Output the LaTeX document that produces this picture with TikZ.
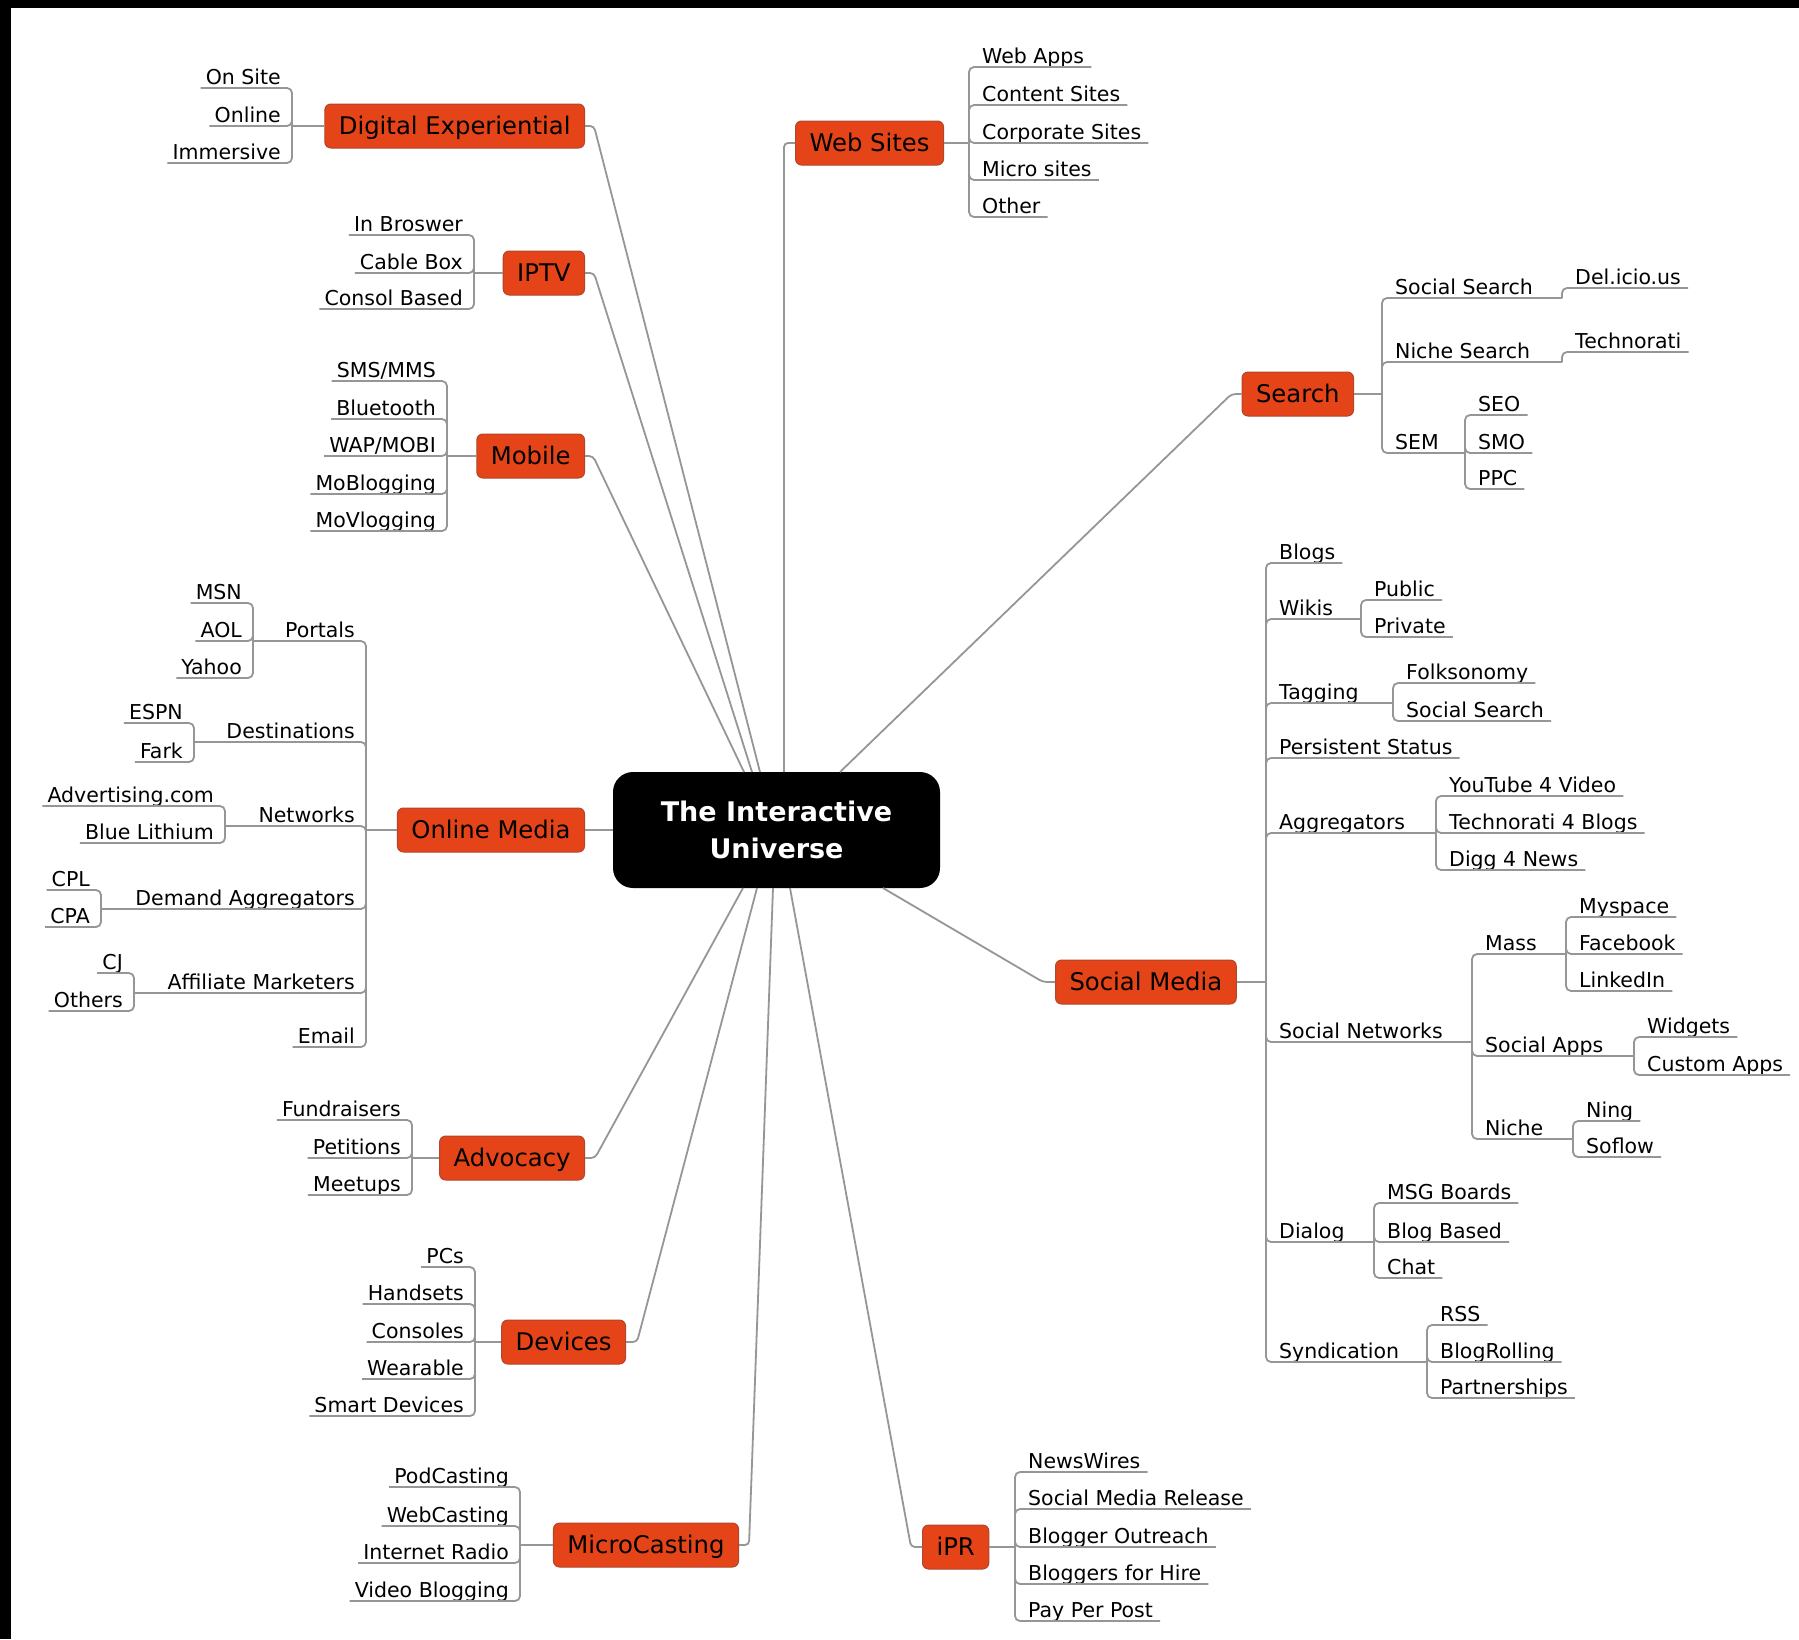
\documentclass[tikz,border=0pt]{standalone}
\usepackage{fontspec}
\setmainfont{DejaVu Sans}
\usetikzlibrary{calc}
\definecolor{boxor}{RGB}{229,68,24}
\definecolor{boxedge}{RGB}{175,70,45}
\definecolor{linegray}{RGB}{150,150,150}
% #1 name, #2 bus coordinate, #3 bus x, #4 underline y, #5 text
\newcommand\leafl[5]{\node[leafL] (#1) at (#3-6,#4-4) {#5};\draw[conn] (#2) |- ([yshift=-4pt]#1.base west);}
\newcommand\leafr[5]{\node[leafR] (#1) at (#3+6,#4-4) {#5};\draw[conn] (#2) |- ([yshift=-4pt]#1.base east);}
% #6 sub-bus name, #7 sub-bus x
\newcommand\midl[7]{\node[leafL] (#1) at (#3-6,#4-4) {#5};\coordinate (#6) at (#7,#4);\draw[conn] (#2) |- (#6);}
\newcommand\midr[7]{\node[leafR] (#1) at (#3+6,#4-4) {#5};\coordinate (#6) at (#7,#4);\draw[conn] (#2) |- (#6);}
\begin{document}
\begin{tikzpicture}[x=1pt,y=-1pt,
  conn/.style={draw=linegray,line width=1.8pt,rounded corners=5pt},
  spoke/.style={draw=linegray,line width=1.8pt,rounded corners=4pt},
  leafL/.style={anchor=base east,inner xsep=5pt,inner ysep=0pt,font=\fontsize{20.5}{24}\selectfont,text=black},
  leafR/.style={anchor=base west,inner xsep=7pt,inner ysep=0pt,font=\fontsize{20.5}{24}\selectfont,text=black},
  topic/.style={fill=boxor,draw=boxedge,line width=1pt,rounded corners=6pt,inner xsep=14pt,inner ysep=10.5pt,
    text height=20pt,text depth=3pt,font=\fontsize{24.3}{28}\selectfont,text=black},
  hub/.style={fill=black,rounded corners=20pt,minimum width=327pt,minimum height=116pt,align=center,
    text=white,font=\fontsize{27}{37}\selectfont\bfseries}]
\useasboundingbox (0,0) rectangle (1799,1639);
\fill[white] (0,0) rectangle (1799,1639);
\fill[black] (0,0) rectangle (1799,8);
\fill[black] (0,0) rectangle (11,1639);

% hub
\node[hub] (c) at (776.5,830) {The Interactive\\Universe};
\coordinate (cDE) at (760,772);
\coordinate (cIP) at (752,772);
\coordinate (cMO) at (744,772);
\coordinate (cWS) at (784,772);
\coordinate (cSR) at (840,772);
\coordinate (cSM) at (883,888);
\coordinate (cIPR) at (790,888);
\coordinate (cMC) at (773,888);
\coordinate (cDV) at (757,888);
\coordinate (cAD) at (743,888);

% topics
\node[topic,anchor=east] (de) at (585,126) {Digital Experiential};
\node[topic,anchor=east] (iptv) at (585,273) {IPTV};
\node[topic,anchor=east] (mob) at (585,456) {Mobile};
\node[topic,anchor=east] (om) at (585,830) {Online Media};
\node[topic,anchor=east] (adv) at (585,1158) {Advocacy};
\node[topic,anchor=east] (dev) at (626,1342) {Devices};
\node[topic,anchor=east] (mc) at (739,1545) {MicroCasting};
\node[topic,anchor=west] (ws) at (795,143) {Web Sites};
\node[topic,anchor=east] (srch) at (1354,394) {Search};
\node[topic,anchor=west] (sm) at (1055,982) {Social Media};
\node[topic,anchor=west] (ipr) at (922,1547) {iPR};

% spokes
\draw[spoke] (de.east) -- ++(9,0) -- (cDE);
\draw[spoke] (iptv.east) -- ++(9,0) -- (cIP);
\draw[spoke] (mob.east) -- ++(8,0) -- (cMO);
\draw[spoke] (om.east) -- (c.west);
\draw[spoke] (adv.east) -- ++(10,0) -- (cAD);
\draw[spoke] (dev.east) -- ++(11,0) -- (cDV);
\draw[spoke] (mc.east) -- ++(10,0) -- (cMC);
\draw[spoke] (ws.west) -- ++(-11,0) -- (cWS);
\draw[spoke] (srch.west) -- ++(-10,0) -- (cSR);
\draw[spoke] (sm.west) -- ++(-12,0) -- (cSM);
\draw[spoke] (ipr.west) -- ++(-11,0) -- (cIPR);

% buses
\coordinate (deB) at (292,126);
\coordinate (ipB) at (474,273);
\coordinate (moB) at (447,456);
\coordinate (omB) at (366,830);
\coordinate (adB) at (412,1158);
\coordinate (dvB) at (475,1342);
\coordinate (mcB) at (520,1545);
\coordinate (wsB) at (969,143);
\coordinate (srB) at (1382,394);
\coordinate (smB) at (1266,982);
\coordinate (iprB) at (1015,1547);
\draw[conn] (deB) -- (de.west);
\draw[conn] (ipB) -- (iptv.west);
\draw[conn] (moB) -- (mob.west);
\draw[conn] (omB) -- (om.west);
\draw[conn] (adB) -- (adv.west);
\draw[conn] (dvB) -- (dev.west);
\draw[conn] (mcB) -- (mc.west);
\draw[conn] (ws.east) -- (wsB);
\draw[conn] (srch.east) -- (srB);
\draw[conn] (sm.east) -- (smB);
\draw[conn] (ipr.east) -- (iprB);

% Digital Experiential
\leafl{os}{deB}{292}{88}{On Site}
\leafl{onl}{deB}{292}{126}{Online}
\leafl{imm}{deB}{292}{163}{Immersive}
% IPTV
\leafl{inb}{ipB}{474}{235}{In Broswer}
\leafl{cbx}{ipB}{474}{273}{Cable Box}
\leafl{csb}{ipB}{474}{309}{Consol Based}
% Mobile
\leafl{sms}{moB}{447}{381}{SMS/MMS}
\leafl{blt}{moB}{447}{419}{Bluetooth}
\leafl{wap}{moB}{447}{456}{WAP/MOBI}
\leafl{mob1}{moB}{447}{494}{MoBlogging}
\leafl{mov}{moB}{447}{531}{MoVlogging}
% Online Media
\midl{por}{omB}{366}{641}{Portals}{porB}{253}
\leafl{msn}{porB}{253}{603}{MSN}
\leafl{aol}{porB}{253}{641}{AOL}
\leafl{yah}{porB}{253}{678}{Yahoo}
\midl{dst}{omB}{366}{742}{Destinations}{dstB}{194}
\leafl{espn}{dstB}{194}{723}{ESPN}
\leafl{fark}{dstB}{194}{762}{Fark}
\midl{net}{omB}{366}{826}{Networks}{netB}{225}
\leafl{adc}{netB}{225}{806}{Advertising.com}
\leafl{blu}{netB}{225}{843}{Blue Lithium}
\midl{dag}{omB}{366}{909}{Demand Aggregators}{dagB}{101}
\leafl{cpl}{dagB}{101}{890}{CPL}
\leafl{cpa}{dagB}{101}{927}{CPA}
\midl{aff}{omB}{366}{993}{Affiliate Marketers}{affB}{134}
\leafl{cj}{affB}{134}{973}{CJ}
\leafl{oth}{affB}{134}{1011}{Others}
\leafl{eml}{omB}{366}{1047}{Email}
% Advocacy
\leafl{fun}{adB}{412}{1120}{Fundraisers}
\leafl{pet}{adB}{412}{1158}{Petitions}
\leafl{mee}{adB}{412}{1195}{Meetups}
% Devices
\leafl{pcs}{dvB}{475}{1267}{PCs}
\leafl{hns}{dvB}{475}{1304}{Handsets}
\leafl{cns}{dvB}{475}{1342}{Consoles}
\leafl{wea}{dvB}{475}{1379}{Wearable}
\leafl{smd}{dvB}{475}{1416}{Smart Devices}
% MicroCasting
\leafl{pod}{mcB}{520}{1487}{PodCasting}
\leafl{web}{mcB}{520}{1526}{WebCasting}
\leafl{inr}{mcB}{520}{1563}{Internet Radio}
\leafl{vbl}{mcB}{520}{1601}{Video Blogging}
% Web Sites
\leafr{wap2}{wsB}{969}{67}{Web Apps}
\leafr{cts}{wsB}{969}{105}{Content Sites}
\leafr{cps}{wsB}{969}{143}{Corporate Sites}
\leafr{mcs}{wsB}{969}{180}{Micro sites}
\leafr{oth2}{wsB}{969}{217}{Other}
% Search
\midr{ss}{srB}{1382}{298}{Social Search}{ssB}{1562}
\leafr{del}{ssB}{1562}{288}{Del.icio.us}
\midr{ns}{srB}{1382}{362}{Niche Search}{nsB}{1562}
\leafr{tec}{nsB}{1562}{352}{Technorati}
\midr{sem}{srB}{1382}{453}{SEM}{semB}{1465}
\leafr{seo}{semB}{1465}{415}{SEO}
\leafr{smo}{semB}{1465}{453}{SMO}
\leafr{ppc}{semB}{1465}{489}{PPC}
% Social Media
\leafr{blg}{smB}{1266}{563}{Blogs}
\midr{wik}{smB}{1266}{619}{Wikis}{wikB}{1361}
\leafr{pub}{wikB}{1361}{600}{Public}
\leafr{pri}{wikB}{1361}{637}{Private}
\midr{tag}{smB}{1266}{703}{Tagging}{tagB}{1393}
\leafr{fol}{tagB}{1393}{683}{Folksonomy}
\leafr{sos}{tagB}{1393}{721}{Social Search}
\leafr{pst}{smB}{1266}{758}{Persistent Status}
\midr{agg}{smB}{1266}{833}{Aggregators}{aggB}{1436}
\leafr{yt}{aggB}{1436}{796}{YouTube 4 Video}
\leafr{t4b}{aggB}{1436}{833}{Technorati 4 Blogs}
\leafr{dg}{aggB}{1436}{870}{Digg 4 News}
\midr{sn}{smB}{1266}{1042}{Social Networks}{snB}{1472}
\midr{mas}{snB}{1472}{954}{Mass}{masB}{1566}
\leafr{msp}{masB}{1566}{917}{Myspace}
\leafr{fb}{masB}{1566}{954}{Facebook}
\leafr{li}{masB}{1566}{991}{LinkedIn}
\midr{sap}{snB}{1472}{1056}{Social Apps}{sapB}{1634}
\leafr{wid}{sapB}{1634}{1037}{Widgets}
\leafr{cus}{sapB}{1634}{1075}{Custom Apps}
\midr{nic}{snB}{1472}{1139}{Niche}{nicB}{1573}
\leafr{ning}{nicB}{1573}{1121}{Ning}
\leafr{sof}{nicB}{1573}{1157}{Soflow}
\midr{dia}{smB}{1266}{1242}{Dialog}{diaB}{1374}
\leafr{msg}{diaB}{1374}{1203}{MSG Boards}
\leafr{bb}{diaB}{1374}{1242}{Blog Based}
\leafr{cht}{diaB}{1374}{1278}{Chat}
\midr{syn}{smB}{1266}{1362}{Syndication}{synB}{1427}
\leafr{rss}{synB}{1427}{1325}{RSS}
\leafr{br}{synB}{1427}{1362}{BlogRolling}
\leafr{par}{synB}{1427}{1398}{Partnerships}
% iPR
\leafr{nw}{iprB}{1015}{1472}{NewsWires}
\leafr{smr}{iprB}{1015}{1509}{Social Media Release}
\leafr{bo}{iprB}{1015}{1547}{Blogger Outreach}
\leafr{bfh}{iprB}{1015}{1584}{Bloggers for Hire}
\leafr{ppp}{iprB}{1015}{1621}{Pay Per Post}
\end{tikzpicture}
\end{document}
